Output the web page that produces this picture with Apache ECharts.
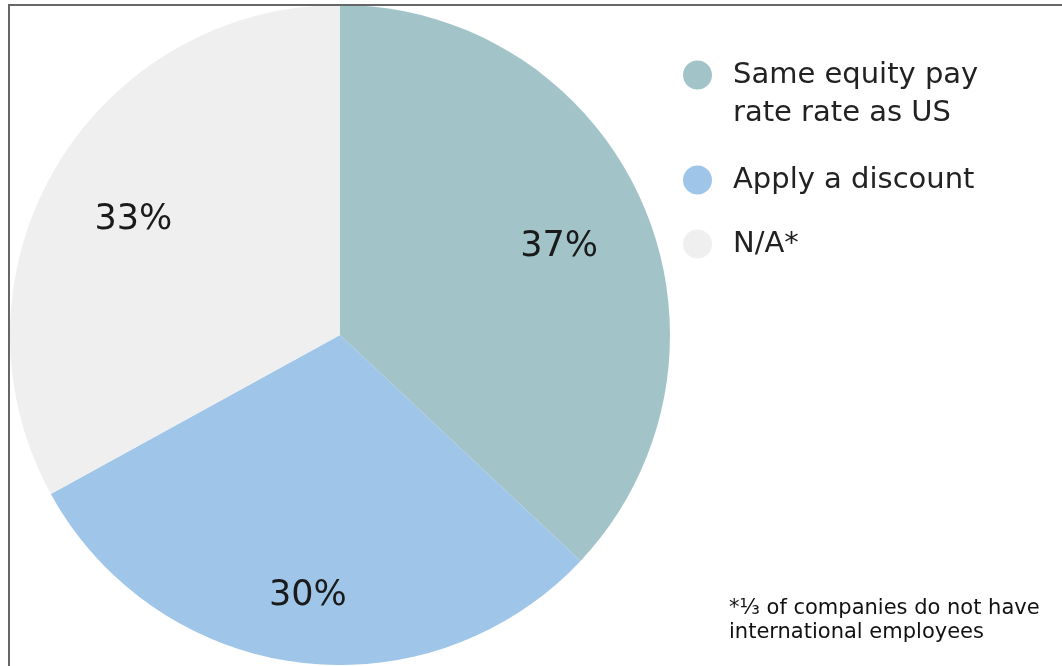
<!DOCTYPE html>
<html>
<head>
<meta charset="utf-8">
<style>
  html, body { margin: 0; padding: 0; background: #ffffff; }
  #chart { width: 1062px; height: 666px; }
</style>
<script src="https://cdn.jsdelivr.net/npm/echarts@6/dist/echarts.min.js"></script>
</head>
<body>
<div id="chart"></div>
<script>
// ---- data ----
const categories = ['Same equity pay\nrate rate as US', 'Apply a discount', 'N/A*'];
const values = [37, 30, 33];
const colors = ['#a2c4c9', '#9fc5e8', '#efefef'];
const footnote = '*\u2153 of companies do not have\ninternational employees';

// label nudges (style only)
const labelOffsets = [[65, -21], [-11, 94], [-62, -30]];

const chart = echarts.init(document.getElementById('chart'), null, { renderer: 'canvas' });

const fontFamily = '"DejaVu Sans", Verdana, sans-serif';

const option = {
  backgroundColor: '#ffffff',
  animation: false,
  color: colors,
  title: {
    text: footnote,
    left: 724,
    top: 592,
    textStyle: {
      fontFamily: fontFamily,
      fontSize: 21,
      fontWeight: 'normal',
      color: '#111111',
      lineHeight: 24
    }
  },
  legend: {
    orient: 'vertical',
    left: 678,
    top: 13,
    itemWidth: 29,
    itemHeight: 29,
    itemGap: 32,
    icon: 'circle',
    selectedMode: false,
    formatter: function (name) {
      return name.indexOf('\n') >= 0 ? ' \n' + name : name;
    },
    textStyle: {
      fontFamily: fontFamily,
      fontSize: 29,
      color: '#222222',
      lineHeight: 38,
      padding: [0, 0, 0, 16]
    },
    data: categories.map((c, i) => i === 0
      ? { name: c, textStyle: { lineHeight: 38 } }
      : { name: c, textStyle: { lineHeight: 32 } })
  },
  graphic: [{
    type: 'rect',
    z: 100,
    shape: { x: 9, y: 5, width: 1200, height: 1000 },
    style: { fill: 'none', stroke: '#666666', lineWidth: 2 }
  }],
  series: [{
    type: 'pie',
    center: [340, 335],
    radius: 330,
    startAngle: 90,
    clockwise: true,
    silent: true,
    itemStyle: { borderWidth: 0 },
    label: {
      show: true,
      position: 'inside',
      formatter: '{c}%',
      fontFamily: fontFamily,
      fontSize: 35,
      color: '#1a1a1a'
    },
    labelLine: { show: false },
    data: categories.map((c, i) => ({
      name: c,
      value: values[i],
      label: { offset: labelOffsets[i] }
    }))
  }]
};

chart.setOption(option);
</script>
</body>
</html>
